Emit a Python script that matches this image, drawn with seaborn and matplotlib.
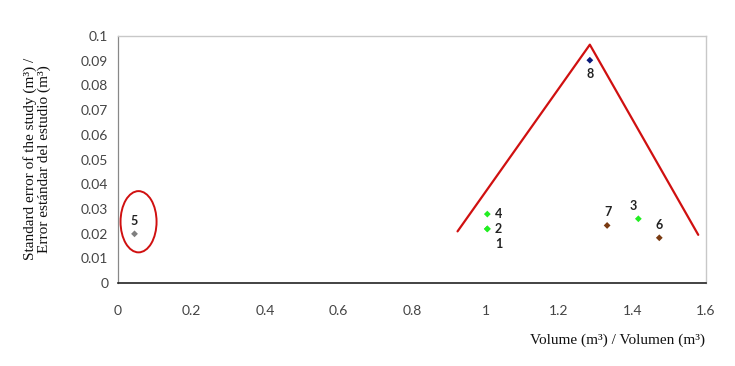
import matplotlib
matplotlib.use("Agg")
import matplotlib.pyplot as plt
from matplotlib.patches import Ellipse
import seaborn as sns
import pandas as pd

# Data
point_ids = ["1", "2", "3", "4", "5", "6", "7", "8"]
volume = [1.005, 1.005, 1.416, 1.005, 0.045, 1.473, 1.331, 1.284]
std_error = [0.0219, 0.0219, 0.0260, 0.0279, 0.0199, 0.0183, 0.0233, 0.0902]
group = ["green", "green", "green", "green", "gray", "brown", "brown", "navy"]

triangle_x = [0.924, 1.284, 1.579]
triangle_y = [0.0209, 0.0965, 0.0195]

x_ticks = [0, 0.2, 0.4, 0.6, 0.8, 1.0, 1.2, 1.4, 1.6]
x_tick_labels = ["0", "0.2", "0.4", "0.6", "0.8", "1", "1.2", "1.4", "1.6"]
y_ticks = [0, 0.01, 0.02, 0.03, 0.04, 0.05, 0.06, 0.07, 0.08, 0.09, 0.1]
y_tick_labels = ["0", "0.01", "0.02", "0.03", "0.04", "0.05", "0.06", "0.07", "0.08", "0.09", "0.1"]

df = pd.DataFrame({"id": point_ids, "volume": volume, "se": std_error, "group": group})

palette = {"green": "#22ee22", "gray": "#7f7f7f", "brown": "#7a3b12", "navy": "#0a1a7a"}

sns.set_style("white")
plt.rcParams["font.family"] = ["Lato", "DejaVu Sans"]

fig = plt.figure(figsize=(7.35, 3.66), dpi=100)
ax = fig.add_axes([0.1605, 0.2268, 0.8, 0.6748])

sns.lineplot(x=triangle_x, y=triangle_y, sort=False, color="#d01010", lw=1.6, ax=ax)

sns.scatterplot(data=df, x="volume", y="se", hue="group", palette=palette,
                marker="D", s=12, edgecolor="none", legend=False, ax=ax, zorder=3)

ell = Ellipse((0.056, 0.0248), width=0.098, height=0.0248, fill=False,
              edgecolor="#d01010", lw=1.4)
ax.add_patch(ell)

label_offsets = {"1": (8, -11), "2": (8, 0), "3": (-4, 9), "4": (8, 0),
                 "5": (0, 9), "6": (0, 9), "7": (1, 10), "8": (0, -10)}
for pid, xv, yv in zip(point_ids, volume, std_error):
    dx, dy = label_offsets[pid]
    ax.annotate(pid, (xv, yv), xytext=(dx, dy), textcoords="offset points",
                ha="center", va="center", fontsize=9, fontweight="bold",
                color="#222222")

ax.set_xlim(0, 1.6)
ax.set_ylim(0, 0.1)
ax.set_xticks(x_ticks)
ax.set_xticklabels(x_tick_labels)
ax.set_yticks(y_ticks)
ax.set_yticklabels(y_tick_labels)
ax.tick_params(axis="both", labelsize=10, colors="#444444", length=4, width=0.8,
               direction="out", pad=4)
ax.tick_params(axis="x", pad=12)
ax.tick_params(axis="y", pad=3)

for side in ["top", "right"]:
    ax.spines[side].set_color("#c8c8c8")
    ax.spines[side].set_linewidth(1.0)
ax.spines["left"].set_color("#888888")
ax.spines["left"].set_linewidth(0.9)
ax.spines["bottom"].set_color("#222222")
ax.spines["bottom"].set_linewidth(1.2)

ax.set_xlabel("")
ax.set_ylabel("")
fig.text(0.84, 0.07, "Volume (m³) / Volumen (m³)", ha="center", va="center",
         fontsize=11, family=["Liberation Serif", "DejaVu Serif"], color="#111111")
fig.text(0.051, 0.565, "Standard error of the study (m³) /\nError estándar del estudio (m³)",
         ha="center", va="center", rotation=90, fontsize=11, linespacing=1.05,
         family=["Liberation Serif", "DejaVu Serif"], color="#111111")

fig.savefig("out.png", dpi=100)
